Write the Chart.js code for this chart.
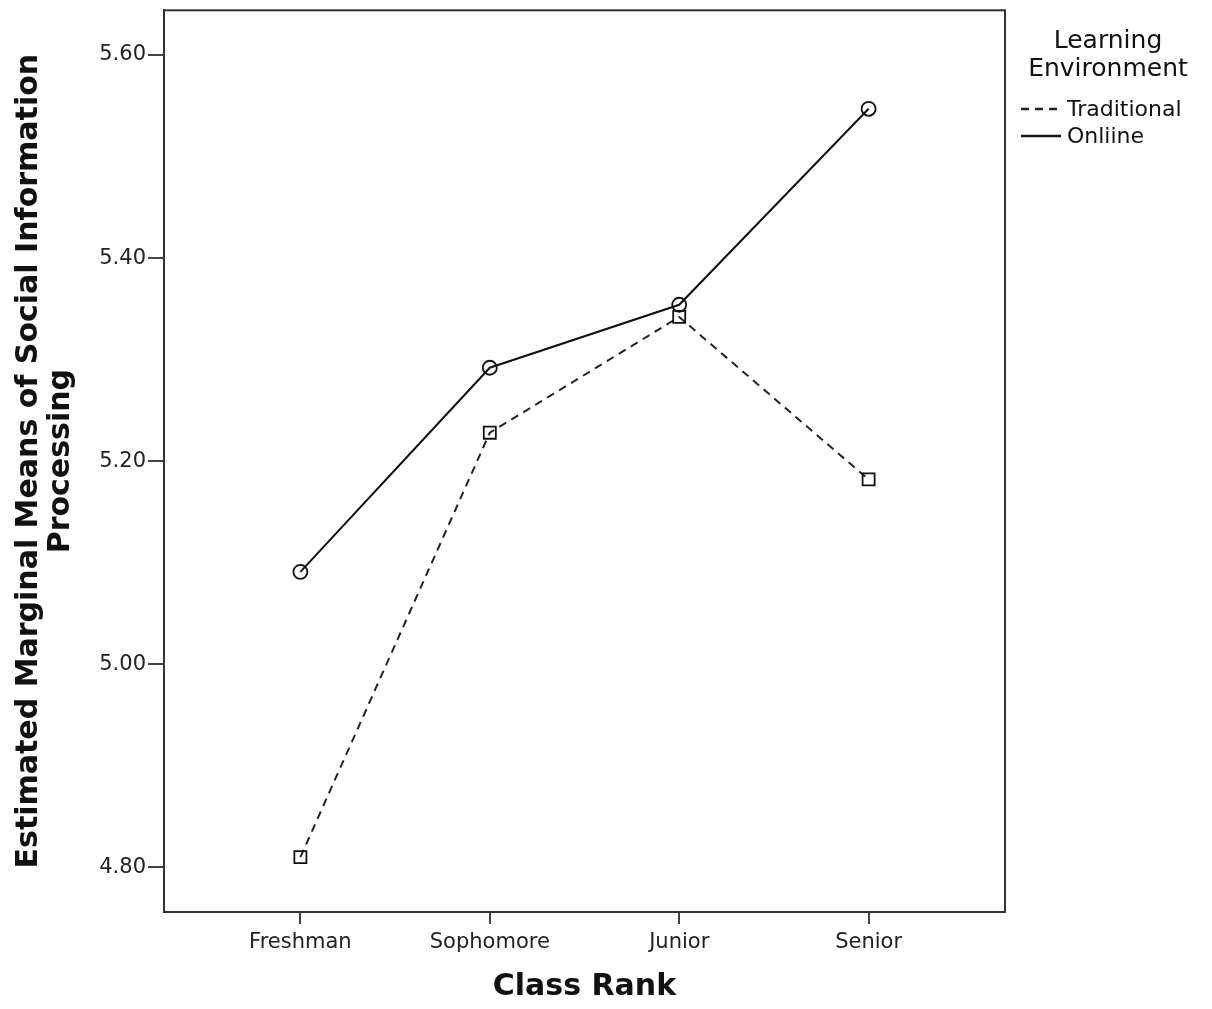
<!DOCTYPE html>
<html>
<head>
<meta charset="utf-8">
<script src="https://cdn.jsdelivr.net/npm/chart.js@4"></script>
<style>
  html, body { margin: 0; padding: 0; background: #fff; }
  #wrap { position: relative; width: 1212px; height: 1009px; }
  #legend { position: absolute; left: 1008px; top: 26px; width: 200px; font-family: "DejaVu Sans", sans-serif; color: #111; }
  #legend .title { text-align: center; font-size: 25px; line-height: 28px; margin-bottom: 13px; }
  #legend .item { display: flex; align-items: center; height: 27px; font-size: 22px; }
  #legend svg { margin-right: 6px; margin-left: 13px; }
</style>
</head>
<body>
<div id="wrap">
  <canvas id="myChart" width="1212" height="1009"></canvas>
  <div id="legend"></div>
</div>
<script>
var classRanks = ['Freshman', 'Sophomore', 'Junior', 'Senior'];
var traditional = [4.810, 5.228, 5.342, 5.182];
var online = [5.091, 5.292, 5.354, 5.547];
var yTicks = [4.80, 5.00, 5.20, 5.40, 5.60];
var legendTitle = ['Learning', 'Environment'];

function toPoints(arr) {
  return arr.map(function (v, i) { return { x: i, y: v }; });
}

var datasets = [
  {
    label: 'Traditional',
    data: toPoints(traditional),
    borderColor: '#222',
    borderWidth: 2,
    borderDash: [8, 6],
    pointStyle: 'rect',
    pointRadius: 8.5,
    pointBorderWidth: 1.8,
    pointBackgroundColor: 'rgba(255,255,255,0)',
    pointBorderColor: '#111',
    fill: false
  },
  {
    label: 'Onliine',
    data: toPoints(online),
    borderColor: '#111',
    borderWidth: 2,
    pointStyle: 'circle',
    pointRadius: 7,
    pointBorderWidth: 1.8,
    pointBackgroundColor: 'rgba(255,255,255,0)',
    pointBorderColor: '#111',
    fill: false
  }
];

// box around the plot area
var frame = {
  id: 'frame',
  afterDraw: function (chart) {
    var a = chart.chartArea, ctx = chart.ctx;
    ctx.save();
    ctx.strokeStyle = '#333';
    ctx.lineWidth = 2;
    ctx.strokeRect(a.left, a.top, a.right - a.left, a.bottom - a.top);
    ctx.restore();
  }
};

var chart = document.getElementById('myChart');
var myChart = new Chart(chart, {
  type: 'line',
  data: { datasets: datasets },
  plugins: [frame],
  options: {
    responsive: false,
    animation: false,
    layout: { padding: { top: 10, right: 207, bottom: 0, left: 0 } },
    plugins: { legend: { display: false }, tooltip: { enabled: false } },
    scales: {
      x: {
        type: 'linear',
        min: -0.72,
        max: 3.72,
        afterBuildTicks: function (scale) {
          scale.ticks = classRanks.map(function (c, i) { return { value: i }; });
        },
        afterFit: function (scale) { scale.height = 97; },
        ticks: {
          color: '#222',
          font: { family: 'DejaVu Sans', size: 21 },
          padding: 6,
          maxRotation: 0,
          callback: function (v) { return classRanks[v]; }
        },
        grid: { drawOnChartArea: false, tickLength: 12, color: '#444', lineWidth: 2 },
        border: { color: '#333', width: 2 },
        title: {
          display: true,
          text: 'Class Rank',
          color: '#111',
          font: { family: 'DejaVu Sans', size: 30, weight: 'bold' },
          padding: { top: 0, bottom: 4 }
        }
      },
      y: {
        min: 4.756,
        max: 5.644,
        afterBuildTicks: function (scale) {
          scale.ticks = yTicks.map(function (v) { return { value: v }; });
        },
        afterFit: function (scale) {
          scale.width = 164;
          scale.paddingTop = 0;
          scale.paddingBottom = 0;
        },
        ticks: {
          color: '#222',
          font: { family: 'DejaVu Sans', size: 21 },
          padding: 2,
          callback: function (v) { return v.toFixed(2); }
        },
        grid: { drawOnChartArea: false, tickLength: 16, color: '#444', lineWidth: 2 },
        border: { color: '#333', width: 2 },
        title: {
          display: true,
          text: ['Estimated Marginal Means of Social Information', 'Processing'],
          color: '#111',
          font: { family: 'DejaVu Sans', size: 30, weight: 'bold', lineHeight: 1.07 },
          padding: { top: 13, bottom: 0 }
        }
      }
    }
  }
});

// legend in HTML, built from the datasets
var leg = document.getElementById('legend');
var t = document.createElement('div');
t.className = 'title';
t.innerHTML = legendTitle.join('<br>');
leg.appendChild(t);
datasets.forEach(function (ds) {
  var row = document.createElement('div');
  row.className = 'item';
  var dash = ds.borderDash ? ds.borderDash.join(',') : 'none';
  row.innerHTML = '<svg width="40" height="4"><line x1="0" y1="2" x2="40" y2="2" stroke="' + ds.borderColor +
    '" stroke-width="2.5" stroke-dasharray="' + dash + '"/></svg><span>' + ds.label + '</span>';
  leg.appendChild(row);
});
</script>
</body>
</html>
